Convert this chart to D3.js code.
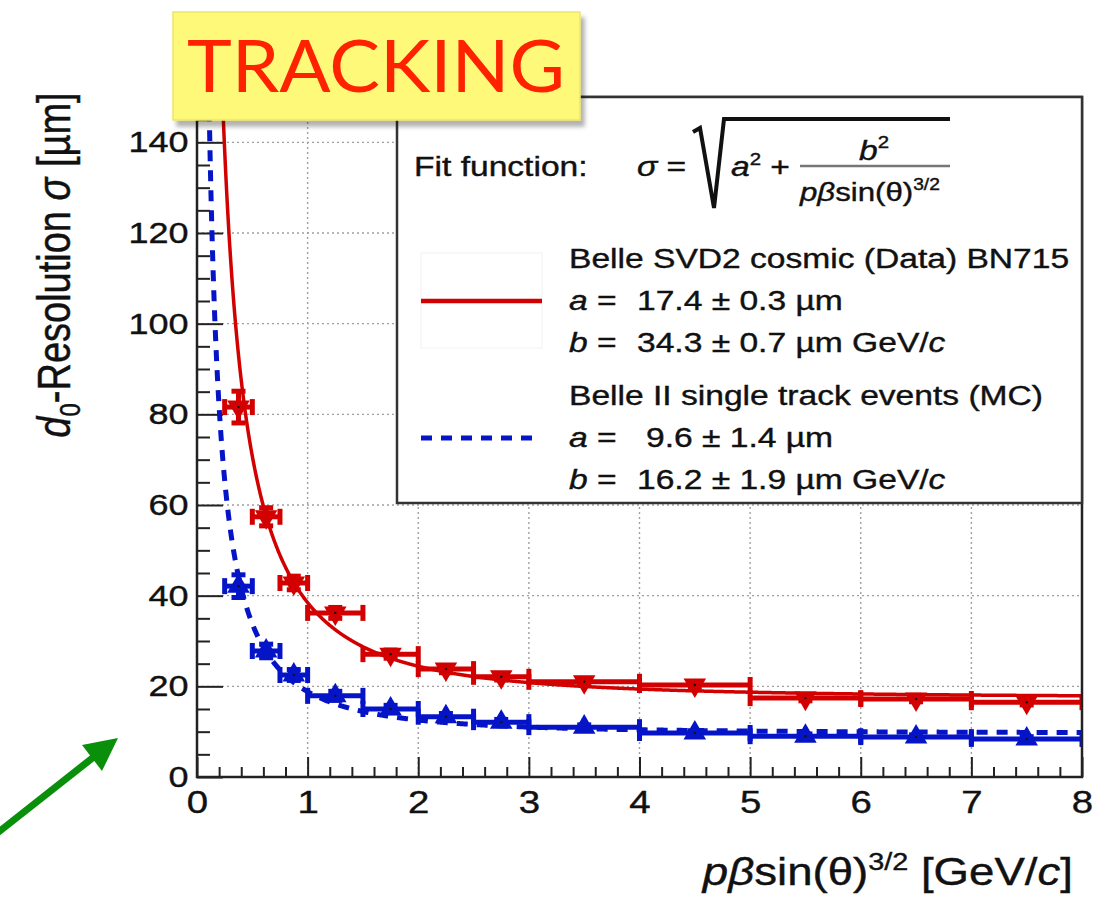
<!DOCTYPE html>
<html>
<head>
<meta charset="utf-8">
<script src="https://cdn.jsdelivr.net/npm/d3@7"></script>
<style>
  body { margin: 0; background: #fff; }
  text { font-family: "Liberation Sans", Arial, Helvetica, sans-serif; }
  .heavy { stroke: #111; stroke-width: 0.4px; paint-order: stroke; }
</style>
</head>
<body>
<svg id="chart" width="1110" height="898"></svg>
<script>
// ---- data ----------------------------------------------------------
// bins in p*beta*sin(theta)^(3/2) [GeV/c]
const binCenter = [0.375, 0.625, 0.875, 1.25, 1.75, 2.25, 2.75, 3.5, 4.5, 5.5, 6.5, 7.5];
const binHalf   = [0.125, 0.125, 0.125, 0.25, 0.25, 0.25, 0.25, 0.5, 0.5, 0.5, 0.5, 0.5];
// Belle SVD2 cosmic data (um)
const dataSigma = [81.6, 57.4, 42.8, 36.2, 27.1, 23.8, 22.1, 21.0, 20.3, 17.4, 17.2, 16.5];
const dataErr   = [3.5, 2.0, 1.5, 1.2, 0.9, 0.8, 0.7, 0.6, 0.6, 0.6, 0.6, 0.6];
// Belle II single track MC (um)
const mcSigma   = [42.1, 27.8, 22.5, 17.9, 15.0, 13.3, 12.1, 11.0, 9.7, 9.0, 8.8, 8.4];
const mcErr     = [2.5, 1.5, 1.2, 1.0, 0.8, 0.7, 0.6, 0.5, 0.5, 0.5, 0.5, 0.5];
// fit parameters a [um], b [um GeV/c]: data, MC
const fitA = [17.4, 9.6];
const fitB = [34.3, 16.2];
// axis ticks
const xMajor = [0, 1, 2, 3, 4, 5, 6, 7, 8];
const yMajor = [0, 20, 40, 60, 80, 100, 120, 140];

// ---- layout --------------------------------------------------------
const RED = "#d20000", BLUE = "#0614c8";
const SX = 1.2; // horizontal stretch of the text
const L = 197, R = 1082, T = 97, B = 777;

const svg = d3.select("#chart");
const x = d3.scaleLinear().domain([0, 8]).range([L, R]);
const y = d3.scaleLinear().domain([0, 150]).range([B, T]);

svg.append("rect").attr("width", 1110).attr("height", 898).attr("fill", "#fff");

const defs = svg.append("defs");
defs.append("clipPath").attr("id", "plotClip")
  .append("rect").attr("x", L).attr("y", T).attr("width", R - L).attr("height", B - T);
const sh = defs.append("filter").attr("id", "shadow")
  .attr("x", "-5%").attr("y", "-10%").attr("width", "115%").attr("height", "130%");
sh.append("feDropShadow").attr("dx", 4).attr("dy", 6).attr("stdDeviation", 2)
  .attr("flood-color", "#000").attr("flood-opacity", 0.3);

// ---- grid ----------------------------------------------------------
const grid = svg.append("g").attr("stroke", "#a0a0a0").attr("stroke-width", 1.4)
  .attr("stroke-dasharray", "2,3");
grid.selectAll("line.vx").data(xMajor.filter(v => v > 0 && v < 8)).join("line")
  .attr("x1", d => x(d)).attr("x2", d => x(d)).attr("y1", T).attr("y2", B);
grid.selectAll("line.hy").data(yMajor.filter(v => v > 0)).join("line")
  .attr("x1", L).attr("x2", R).attr("y1", d => y(d)).attr("y2", d => y(d));

// ---- axes (ticks point inward) -----------------------------------
const xMinor = d3.range(0, 8.001, 0.2).filter(v => Math.abs(v - Math.round(v)) > 1e-6);
const yMinor = d3.range(0, 150.001, 5).filter(v => v % 20 !== 0);

svg.append("g").attr("transform", `translate(0,${B})`)
  .call(d3.axisBottom(x).tickValues(xMinor).tickSize(-10).tickFormat(""))
  .call(g => g.select(".domain").remove())
  .call(g => g.selectAll("line").attr("stroke", "#222").attr("stroke-width", 2));
svg.append("g").attr("transform", `translate(0,${B})`)
  .call(d3.axisBottom(x).tickValues(xMajor).tickSize(-20).tickPadding(13).tickFormat(d3.format("d")))
  .call(g => g.select(".domain").remove())
  .call(g => g.selectAll("line").attr("stroke", "#222").attr("stroke-width", 2))
  .call(g => g.selectAll("text").attr("font-size", 32).attr("fill", "#111")
    .attr("class", "heavy")
    .attr("transform", `scale(${SX},1)`));

svg.append("g").attr("transform", `translate(${L},0)`)
  .call(d3.axisLeft(y).tickValues(yMinor).tickSize(-13).tickFormat(""))
  .call(g => g.select(".domain").remove())
  .call(g => g.selectAll("line").attr("stroke", "#222").attr("stroke-width", 2));
svg.append("g").attr("transform", `translate(${L},0)`)
  .call(d3.axisLeft(y).tickValues(yMajor).tickSize(-26).tickPadding(7).tickFormat(d3.format("d")))
  .call(g => g.select(".domain").remove())
  .call(g => g.selectAll("line").attr("stroke", "#222").attr("stroke-width", 2))
  .call(g => g.selectAll("text").attr("font-size", 30).attr("fill", "#111")
    .attr("class", "heavy")
    .attr("transform", `scale(${SX},1)`));

// ---- data points with error bars ---------------------------------
function drawSeries(vals, errs, color, symbolType, rot) {
  const g = svg.append("g").attr("clip-path", "url(#plotClip)")
    .attr("stroke", color).attr("stroke-width", 5);
  const pts = binCenter.map((c, i) => ({ c, h: binHalf[i], v: vals[i], e: errs[i] }));
  const capX = 8, capY = 7;
  // horizontal bars + end caps
  g.selectAll("line.hb").data(pts).join("line")
    .attr("x1", d => x(d.c - d.h)).attr("x2", d => x(d.c + d.h))
    .attr("y1", d => y(d.v)).attr("y2", d => y(d.v));
  [-1, 1].forEach(s => {
    g.selectAll("line.hc" + (s > 0 ? "r" : "l")).data(pts).join("line")
      .attr("x1", d => x(d.c + s * d.h)).attr("x2", d => x(d.c + s * d.h))
      .attr("y1", d => y(d.v) - capX).attr("y2", d => y(d.v) + capX);
  });
  // vertical bars + end caps
  g.selectAll("line.vb").data(pts).join("line")
    .attr("x1", d => x(d.c)).attr("x2", d => x(d.c))
    .attr("y1", d => y(d.v - d.e)).attr("y2", d => y(d.v + d.e));
  [-1, 1].forEach(s => {
    g.selectAll("line.vc" + (s > 0 ? "t" : "b")).data(pts).join("line")
      .attr("x1", d => x(d.c) - capY).attr("x2", d => x(d.c) + capY)
      .attr("y1", d => y(d.v + s * d.e)).attr("y2", d => y(d.v + s * d.e));
  });
  // markers
  g.selectAll("path.mk").data(pts).join("path")
    .attr("d", d3.symbol().type(symbolType).size(220))
    .attr("transform", d => `translate(${x(d.c)},${y(d.v)}) rotate(${rot})`)
    .attr("fill", color).attr("stroke", "none");
  g.selectAll("circle.dot").data(pts).join("circle")
    .attr("cx", d => x(d.c)).attr("cy", d => y(d.v)).attr("r", 1.2)
    .attr("fill", "#111").attr("stroke", "none");
}
drawSeries(dataSigma, dataErr, RED, d3.symbolTriangle, 180);
drawSeries(mcSigma, mcErr, BLUE, d3.symbolTriangle, 0);

// ---- fit functions sigma = sqrt(a^2 + b^2 / (p beta sin^(3/2))^2) -
const fitX = d3.range(0.08, 8.0001, 0.005);
const fitLine = (a, b) => d3.line()
  .x(p => x(p))
  .y(p => y(Math.min(200, Math.sqrt(a * a + (b * b) / (p * p)))))(fitX);
const curves = svg.append("g").attr("clip-path", "url(#plotClip)").attr("fill", "none");
curves.append("path").attr("d", fitLine(fitA[0], fitB[0]))
  .attr("stroke", RED).attr("stroke-width", 3.5);
curves.append("path").attr("d", fitLine(fitA[1], fitB[1]))
  .attr("stroke", BLUE).attr("stroke-width", 5).attr("stroke-dasharray", "11,9");

// ---- frame ---------------------------------------------------------
svg.append("rect").attr("x", L).attr("y", T).attr("width", R - L).attr("height", B - T)
  .attr("fill", "none").attr("stroke", "#222").attr("stroke-width", 2.5);

// ---- legend ----------------------------------------------------------
const leg = svg.append("g");
leg.append("rect").attr("x", 397).attr("y", T).attr("width", R - 397).attr("height", 503 - T)
  .attr("fill", "#fff").attr("stroke", "#333").attr("stroke-width", 2.5);

function stext(parent, px, py, size, anchor) {
  return parent.append("text")
    .attr("class", "heavy")
    .attr("transform", `translate(${px},${py}) scale(${SX},1)`)
    .attr("font-size", size).attr("fill", "#111")
    .attr("text-anchor", anchor || "start")
    .attr("xml:space", "preserve").style("white-space", "pre");
}

stext(leg, 414, 176, 28).text("Fit function:");
// formula
const fs = stext(leg, 637, 176, 28);
fs.append("tspan").attr("font-style", "italic").text("σ");
fs.append("tspan").text(" =");
leg.append("path")
  .attr("d", "M693,132 L700,128 L714,208 L724,119 L950,119")
  .attr("fill", "none").attr("stroke", "#111").attr("stroke-width", 4)
  .attr("stroke-linejoin", "miter");
const fa = stext(leg, 731, 176, 28);
fa.append("tspan").attr("font-style", "italic").text("a");
fa.append("tspan").attr("font-size", 17).attr("dy", -11).text("2");
fa.append("tspan").attr("dy", 11).text(" +");
leg.append("line").attr("x1", 800).attr("x2", 950).attr("y1", 166).attr("y2", 166)
  .attr("stroke", "#777").attr("stroke-width", 2.5);
const fb = stext(leg, 859, 160, 28);
fb.append("tspan").attr("font-style", "italic").text("b");
fb.append("tspan").attr("font-size", 17).attr("dy", -12).text("2");
const fd = stext(leg, 800, 201, 26);
fd.append("tspan").attr("font-style", "italic").text("pβ");
fd.append("tspan").text("sin(θ)");
fd.append("tspan").attr("font-size", 16).attr("dy", -11).text("3/2");

// legend entries
leg.append("rect").attr("x", 421).attr("y", 253).attr("width", 121).attr("height", 95)
  .attr("fill", "none").attr("stroke", "#f2f2f2").attr("stroke-width", 1);
leg.append("line").attr("x1", 421).attr("x2", 542).attr("y1", 301).attr("y2", 301)
  .attr("stroke", RED).attr("stroke-width", 4.5);
leg.append("line").attr("x1", 421).attr("x2", 540).attr("y1", 438).attr("y2", 438)
  .attr("stroke", BLUE).attr("stroke-width", 5).attr("stroke-dasharray", "11,9");

const entries = [
  { yb: 268, title: "Belle SVD2 cosmic (Data) BN715", a: "17.4 ± 0.3", ax: 637, b: "34.3 ± 0.7" },
  { yb: 405, title: "Belle II single track events (MC)", a: "9.6 ± 1.4", ax: 646, b: "16.2 ± 1.9" }
];
entries.forEach(e => {
  stext(leg, 569, e.yb, 28).text(e.title);
  const ta = stext(leg, 569, e.yb + 42, 28);
  ta.append("tspan").attr("font-style", "italic").text("a");
  ta.append("tspan").text(" =");
  stext(leg, e.ax, e.yb + 42, 28).text(e.a + " µm");
  const tb = stext(leg, 569, e.yb + 84, 28);
  tb.append("tspan").attr("font-style", "italic").text("b");
  tb.append("tspan").text(" =");
  const vb = stext(leg, 637, e.yb + 84, 28);
  vb.append("tspan").text(e.b + " µm GeV/");
  vb.append("tspan").attr("font-style", "italic").text("c");
});

// ---- axis titles ---------------------------------------------------
const xt = stext(svg, 1073, 885, 38, "end");
xt.append("tspan").attr("font-style", "italic").text("pβ");
xt.append("tspan").text("sin(θ)");
xt.append("tspan").attr("font-size", 24).attr("dy", -15).text("3/2");
xt.append("tspan").attr("dy", 15).text(" [GeV/");
xt.append("tspan").attr("font-style", "italic").text("c");
xt.append("tspan").text("]");

const yt = svg.append("text")
  .attr("class", "heavy")
  .attr("transform", `translate(70,265) scale(${SX},1) rotate(-90)`)
  .attr("font-size", 38).attr("fill", "#111").attr("text-anchor", "middle")
  .attr("xml:space", "preserve").style("white-space", "pre");
yt.append("tspan").attr("font-style", "italic").text("d");
yt.append("tspan").attr("font-size", 24).attr("dy", 8).text("0");
yt.append("tspan").attr("dy", -8).text("-Resolution ");
yt.append("tspan").attr("font-style", "italic").text("σ");
yt.append("tspan").text(" [µm]");

// ---- TRACKING banner ----------------------------------------------
const ban = svg.append("g");
ban.append("rect").attr("x", 173).attr("y", 12).attr("width", 407).attr("height", 108)
  .attr("fill", "#fff97a").attr("stroke", "#ece56a").attr("stroke-width", 1.5)
  .attr("filter", "url(#shadow)");
ban.append("text").attr("x", 187).attr("y", 92)
  .style("font-family", "Lato, 'Open Sans', sans-serif").attr("font-size", 72)
  .attr("fill", "#ff2200").attr("textLength", 378).attr("lengthAdjust", "spacingAndGlyphs")
  .text("TRACKING");

// ---- green pointer arrow ------------------------------------------
const arrow = svg.append("g").attr("fill", "#0a8f0a").attr("stroke", "#0a8f0a");
arrow.append("line").attr("x1", -4).attr("y1", 834).attr("x2", 95).attr("y2", 756)
  .attr("stroke-width", 7);
arrow.append("path").attr("d", "M118,738 L82,745 L102,771 Z").attr("stroke", "none");
</script>
</body>
</html>
